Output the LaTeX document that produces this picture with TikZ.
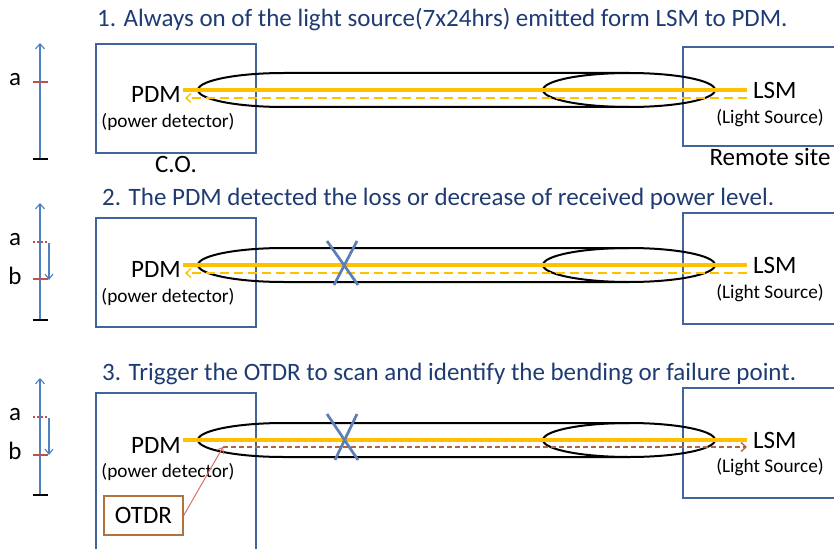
\documentclass[tikz,border=0pt]{standalone}
\usepackage{fontspec}
\setmainfont{Carlito}
\usetikzlibrary{arrows.meta}
\definecolor{titleblue}{HTML}{1F3B73}
\definecolor{boxblue}{HTML}{41659A}
\definecolor{fiber}{HTML}{FFC000}
\definecolor{axisblue}{HTML}{4F81BD}
\definecolor{tickred}{HTML}{C0504D}
\definecolor{xblue}{HTML}{5B7FB5}
\definecolor{otdrbrown}{HTML}{B5713A}
\definecolor{scanbrown}{HTML}{B5603A}
\definecolor{pointred}{HTML}{D9706A}
\tikzset{
  title/.style={anchor=base west, text=titleblue, font=\fontsize{25}{27}\selectfont, inner sep=0},
  sitebox/.style={draw=boxblue, line width=1.9pt},
  big/.style={font=\fontsize{25}{27}\selectfont, inner sep=0},
  small/.style={font=\fontsize{19.3}{21}\selectfont, inner sep=0},
  mid/.style={font=\fontsize{25}{27}\selectfont, inner sep=0},
  cyl/.style={draw=black, line width=2pt},
  fiberline/.style={draw=fiber, line width=3.4pt},
  backlight/.style={draw=fiber, line width=1.3pt, dash pattern=on 9pt off 5pt, -{Straight Barb[length=5pt,width=9pt]}},
  scanline/.style={draw=scanbrown, line width=1.3pt, dash pattern=on 5pt off 3pt, -{Straight Barb[length=5pt,width=9pt]}},
  axis/.style={draw=axisblue, line width=1.1pt, -{Straight Barb[length=5pt,width=9pt]}},
  drop/.style={draw=axisblue, line width=1.1pt, -{Straight Barb[length=5pt,width=8pt]}},
  basetick/.style={draw=black, line width=2.2pt},
  lvl/.style={draw=tickred, line width=2.2pt},
  oldlvl/.style={draw=tickred, line width=1.8pt, dash pattern=on 2pt off 2pt},
  cross/.style={draw=xblue, line width=2.7pt},
}
\begin{document}
\begin{tikzpicture}[x=1pt,y=-1pt]
\clip (0,0) rectangle (834,548);
\fill[white] (0,0) rectangle (834,548);

% ---------- titles ----------
\node[title] (t1) at (97,27) {1. Always on of the light source(7x24hrs) emitted form LSM to PDM.};
\node[title] (t2) at (102,205) {2. The PDM detected the loss or decrease of received power level.};
\node[title] (t3) at (102,380) {3. Trigger the OTDR to scan and identify the bending or failure point.};

% Panel 1 (c = 90)
\draw[sitebox] (96,44) rectangle (256,153);
\draw[sitebox] (683,47) rectangle (850,146);
\draw[cyl] (629,73) -- (284,73) arc[start angle=270, end angle=90, x radius=86, y radius=17] -- (629,107);
\draw[cyl] (629,90) ellipse[x radius=86, y radius=17];
\node[big, anchor=base east] (pdm1) at (181,103) {PDM};
\node[small] (pd1) at (168,122) {(power detector)};
\node[big, anchor=base west] (lsm1) at (753,99) {LSM};
\node[small] (ls1) at (770,118) {(Light Source)};
\node[mid] (co) at (176,164) {C.O.};
\node[mid] (rs) at (770,157) {Remote site};
\coordinate (f1a) at (183,90); \coordinate (f1b) at (747,90);
\draw[fiberline] (f1a) -- (f1b);
\coordinate (b1a) at (747,98); \coordinate (b1b) at (185,98);
\draw[backlight] (b1a) -- (b1b);
% axis 1
\coordinate (ax1t) at (40,43); \coordinate (ax1b) at (40,159);
\draw[axis] (ax1b) -- (ax1t);
\draw[basetick] (33,159) -- (48,159);
\draw[lvl] (33,82) -- (48,82);
\node[mid] (a1) at (15,80) {a};

% Panel 2 (c = 265)
\draw[sitebox] (96,218) rectangle (256,327);
\draw[sitebox] (683,213) rectangle (850,324);
\draw[cyl] (629,248) -- (284,248) arc[start angle=270, end angle=90, x radius=86, y radius=17] -- (629,282);
\draw[cyl] (629,265) ellipse[x radius=86, y radius=17];
\node[big, anchor=base east] (pdm2) at (181,277) {PDM};
\node[small] (pd2) at (168,297) {(power detector)};
\node[big, anchor=base west] (lsm2) at (753,273) {LSM};
\node[small] (ls2) at (770,293) {(Light Source)};
\coordinate (f2a) at (183,265); \coordinate (f2b) at (747,265);
\draw[fiberline] (f2a) -- (f2b);
\coordinate (b2a) at (747,273); \coordinate (b2b) at (185,273);
\draw[backlight] (b2a) -- (b2b);
\draw[cross] (327,241) -- (358,285);
\draw[cross] (357,241) -- (334,285);
% axis 2
\coordinate (ax2t) at (40,203); \coordinate (ax2b) at (40,320);
\draw[axis] (ax2b) -- (ax2t);
\draw[basetick] (33,320) -- (48,320);
\draw[oldlvl] (33,242) -- (48,242);
\draw[lvl] (33,279) -- (48,279);
\coordinate (d2a) at (49,243); \coordinate (d2b) at (49,280);
\draw[drop] (d2a) -- (d2b);
\node[mid] (a2) at (15,240) {a};
\node[mid] (bb2) at (15,276) {b};

% Panel 3 (c = 440)
\draw[sitebox] (96,393) rectangle (256,560);
\draw[sitebox] (683,388) rectangle (850,498);
\draw[cyl] (629,423) -- (284,423) arc[start angle=270, end angle=90, x radius=86, y radius=17] -- (629,457);
\draw[cyl] (629,440) ellipse[x radius=86, y radius=17];
\node[big, anchor=base east] (pdm3) at (181,453) {PDM};
\node[small] (pd3) at (168,472) {(power detector)};
\node[big, anchor=base west] (lsm3) at (753,448) {LSM};
\node[small] (ls3) at (770,467) {(Light Source)};
\coordinate (f3a) at (183,440); \coordinate (f3b) at (747,440);
\draw[fiberline] (f3a) -- (f3b);
\coordinate (s3a) at (223,447); \coordinate (s3b) at (747,447);
\draw[scanline] (s3a) -- (s3b);
\draw[cross] (327,414) -- (358,460);
\draw[cross] (357,414) -- (335,460);
\node[mid, draw=otdrbrown, line width=1.3pt, minimum width=79pt, minimum height=39pt] (otdr) at (143.5,515.5) {OTDR};
\draw[draw=pointred, line width=1pt, -{Straight Barb[length=5pt,width=8pt]}] (otdr.east) -- (s3a);
% axis 3
\coordinate (ax3t) at (40,378); \coordinate (ax3b) at (40,495);
\draw[axis] (ax3b) -- (ax3t);
\draw[basetick] (33,495) -- (48,495);
\draw[oldlvl] (33,417) -- (48,417);
\draw[lvl] (33,455) -- (48,455);
\coordinate (d3a) at (49,418); \coordinate (d3b) at (49,455);
\draw[drop] (d3a) -- (d3b);
\node[mid] (a3) at (15,415) {a};
\node[mid] (bb3) at (15,451) {b};
\end{tikzpicture}
\end{document}
